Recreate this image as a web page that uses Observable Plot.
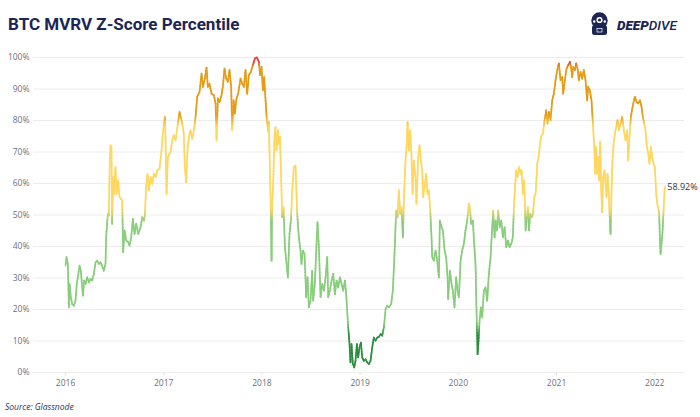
<!DOCTYPE html>
<html>
<head>
<meta charset="utf-8">
<script src="https://cdn.jsdelivr.net/npm/d3@7"></script>
<script src="https://cdn.jsdelivr.net/npm/@observablehq/plot@0.6"></script>
<style>
  body { margin: 0; background: #fff; }
  #wrap { width: 700px; height: 417px; overflow: hidden; background: #fff; }
  #wrap svg { display: block; }
  g[aria-label="x-axis tick"] path, g[aria-label="x-axis"] .tick line { stroke: #dcdcdc; }
</style>
</head>
<body>
<div id="wrap"></div>
<script>
// ---- Data ----
const title = "BTC MVRV Z-Score Percentile";
const source = "Source: Glassnode";

// time as decimal year
const t = [
2016.000,2016.010,2016.024,2016.034,2016.041,2016.054,2016.068,2016.085,2016.102,2016.115,
2016.143,2016.156,2016.177,2016.190,2016.204,2016.221,2016.238,2016.255,2016.272,2016.289,
2016.306,2016.322,2016.339,2016.356,2016.373,2016.390,2016.407,2016.414,2016.431,2016.441,
2016.451,2016.458,2016.468,2016.475,2016.485,2016.495,2016.509,2016.519,2016.536,2016.550,
2016.563,2016.577,2016.587,2016.601,2016.618,2016.638,2016.652,2016.669,2016.686,2016.703,
2016.720,2016.740,2016.764,2016.781,2016.798,2016.808,2016.821,2016.835,2016.849,2016.866,
2016.883,2016.900,2016.917,2016.934,2016.957,2016.978,2016.991,2017.012,2017.018,2017.029,
2017.042,2017.059,2017.073,2017.086,2017.103,2017.120,
2017.161,2017.181,2017.205,2017.215,2017.229,2017.242,2017.256,2017.273,2017.290,2017.307,
2017.324,2017.341,2017.365,2017.385,2017.399,2017.419,2017.436,2017.449,2017.466,2017.487,
2017.511,2017.528,2017.538,2017.551,2017.568,2017.585,2017.602,2017.619,2017.636,2017.653,
2017.670,2017.687,2017.697,2017.711,2017.724,2017.741,2017.758,2017.782,2017.799,2017.816,
2017.833,2017.850,2017.867,2017.887,2017.908,2017.928,2017.948,2017.969,2017.982,2017.996,
2018.010,2018.023,2018.037,2018.050,2018.064,2018.071,2018.081,2018.091,2018.098,2018.105,
2018.115,2018.128,2018.138,2018.149,2018.162,2018.172,2018.183,2018.196,2018.206,2018.220,
2018.234,2018.251,2018.264,2018.281,2018.295,2018.308,2018.325,2018.342,
2018.359,2018.376,2018.393,2018.403,2018.417,2018.434,2018.451,2018.464,2018.478,2018.495,
2018.512,2018.522,2018.539,2018.553,2018.566,2018.580,2018.597,2018.614,2018.631,2018.648,
2018.665,2018.675,2018.692,2018.709,2018.726,2018.743,2018.760,2018.777,2018.794,2018.811,
2018.828,2018.845,2018.858,2018.868,2018.879,2018.892,2018.902,2018.912,2018.926,2018.940,
2018.953,2018.967,2018.980,2018.994,2019.008,2019.021,2019.038,2019.055,2019.072,2019.089,
2019.106,2019.123,2019.140,2019.157,2019.174,2019.191,2019.208,2019.225,2019.242,2019.259,
2019.276,2019.293,2019.316,2019.333,2019.344,2019.354,2019.367,2019.381,2019.394,2019.408,
2019.422,2019.435,2019.449,2019.462,2019.473,2019.483,2019.496,2019.510,2019.523,2019.534,
2019.547,2019.564,
2019.574,2019.591,2019.605,2019.618,2019.632,2019.642,2019.656,2019.673,2019.686,2019.700,
2019.714,2019.727,2019.734,2019.751,2019.768,2019.785,2019.802,2019.812,2019.829,2019.843,
2019.860,2019.876,2019.890,2019.897,2019.914,2019.931,2019.944,2019.961,2019.978,2019.992,
2020.006,2020.023,2020.039,2020.056,2020.073,2020.090,2020.107,2020.117,2020.131,2020.148,
2020.161,2020.175,2020.185,2020.196,2020.206,2020.216,2020.230,2020.243,2020.260,2020.277,
2020.294,2020.311,2020.328,2020.345,2020.355,2020.369,2020.379,2020.392,2020.406,2020.420,
2020.437,2020.454,2020.471,2020.488,2020.505,2020.522,2020.539,2020.555,2020.566,2020.576,
2020.589,2020.603,2020.620,2020.634,2020.644,2020.657,2020.671,2020.685,2020.698,2020.709,
2020.719,2020.733,2020.746,2020.760,2020.774,2020.787,
2020.804,2020.821,2020.837,2020.847,2020.861,2020.878,2020.895,2020.908,2020.922,2020.939,
2020.956,2020.973,2020.990,2021.007,2021.024,2021.041,2021.058,2021.068,2021.085,2021.102,
2021.119,2021.136,2021.149,2021.160,2021.170,2021.187,2021.200,2021.217,2021.227,2021.244,
2021.261,2021.278,2021.295,2021.312,2021.322,2021.339,2021.356,2021.370,2021.384,2021.394,
2021.404,2021.414,2021.424,2021.435,2021.445,2021.455,2021.465,2021.475,2021.489,2021.499,
2021.509,2021.519,2021.530,2021.540,2021.550,2021.560,2021.570,2021.581,2021.594,2021.608,
2021.621,2021.635,2021.652,2021.669,2021.686,2021.703,2021.720,2021.730,2021.743,2021.757,
2021.771,2021.788,2021.798,2021.815,2021.832,2021.849,2021.866,2021.879,2021.893,2021.906,
2021.920,2021.934,2021.947,2021.961,2021.974,2021.988,2022.001,2022.015,2022.025,2022.035,
2022.045,2022.052,2022.059,2022.069,2022.079,2022.090,2022.100,2022.107
];

// MVRV Z-Score percentile (%)
const pct = [
33.9,36.6,34.5,20.7,28.1,23.9,21.7,21.2,22.8,28.1,
33.9,32.3,24.4,29.2,28.1,30.2,28.6,29.7,29.2,31.3,
35.0,35.5,34.5,35.0,33.9,32.3,34.5,42.9,50.4,49.8,
67.3,72.1,71.6,47.2,62.0,56.7,65.2,56.7,61.0,55.7,
55.1,54.6,38.2,45.1,41.9,41.4,40.3,42.9,48.8,44.0,
47.2,44.0,46.1,49.3,48.2,49.8,58.9,63.1,57.8,62.0,
59.9,63.1,62.0,64.2,64.7,70.5,75.8,81.1,74.8,56.7,
68.4,69.5,70.5,73.7,75.3,73.7,
82.7,80.1,75.8,65.2,60.4,70.5,74.8,76.9,74.2,76.9,
81.1,87.5,89.1,94.9,90.7,93.3,96.8,90.7,91.7,88.5,
88.0,85.4,73.7,87.0,85.9,87.5,90.7,96.5,93.3,92.3,
96.0,90.7,76.9,86.4,82.2,87.0,88.5,93.3,91.7,90.7,
96.0,88.5,94.4,95.4,97.6,99.7,100.0,98.6,94.4,97.0,
89.6,93.8,86.4,80.1,76.3,79.5,64.2,50.4,35.5,54.6,
59.9,74.8,77.9,70.5,76.9,72.6,74.8,62.0,49.3,52.5,
39.8,34.5,30.2,44.0,48.2,57.8,65.2,65.7,
50.4,42.9,38.7,34.5,38.7,37.6,23.9,30.2,20.7,22.8,
32.3,22.8,28.1,38.7,47.7,39.8,23.9,28.1,26.0,30.2,
36.6,23.9,26.0,29.2,31.3,24.9,29.2,27.0,30.2,28.1,
26.0,29.2,24.9,19.6,14.3,9.0,3.2,9.0,2.7,1.6,
3.7,9.0,4.8,8.0,9.5,4.8,3.7,4.2,3.2,2.7,
3.7,8.0,11.1,10.1,11.1,11.3,12.2,11.7,14.3,20.1,
21.2,20.7,21.7,26.0,33.4,40.8,51.4,49.3,57.8,50.4,
52.5,42.9,57.8,67.3,71.6,79.5,70.5,76.9,68.4,56.7,
67.3,62.0,
53.6,68.4,72.1,67.3,64.2,55.7,58.9,63.1,56.7,57.8,
51.4,42.9,36.6,35.5,38.7,35.5,30.2,48.2,46.1,45.1,
38.7,36.6,30.2,23.3,32.3,28.1,26.0,20.7,30.2,26.0,
23.9,35.5,38.7,40.8,45.1,48.2,53.6,52.5,47.2,48.2,
40.8,34.5,19.6,5.8,10.1,16.4,20.7,17.5,26.0,27.0,
22.8,31.3,36.6,46.1,51.4,42.9,48.2,45.1,51.4,46.1,
48.2,42.9,46.1,39.8,41.9,39.8,40.8,42.9,52.5,57.8,
64.2,62.0,65.2,63.1,64.2,56.7,61.0,45.1,49.3,52.5,
45.1,50.4,49.3,50.4,55.7,56.7,
66.3,69.5,73.7,75.3,75.8,80.1,83.2,79.0,82.7,80.1,
86.4,88.5,92.8,96.0,98.1,92.8,93.8,88.5,92.8,96.5,
97.6,98.6,96.5,93.8,97.0,96.0,98.1,96.0,92.8,95.4,
93.3,96.0,92.8,86.4,90.7,89.6,86.4,79.0,71.6,63.1,
71.6,63.1,68.4,61.0,73.2,57.8,50.9,62.0,64.2,59.9,
55.7,63.1,57.8,50.4,44.0,57.8,67.3,72.6,75.8,77.9,
80.1,76.9,79.0,81.1,76.9,73.7,76.9,67.3,74.8,81.1,
83.8,86.4,87.5,85.9,85.4,86.4,84.3,81.1,79.0,76.9,
71.6,69.5,66.3,71.6,68.4,66.3,65.2,56.7,53.6,52.5,
50.4,42.9,37.6,40.8,44.5,51.4,57.8,58.92
];

const yearTicks = [2016, 2017, 2018, 2019, 2020, 2021, 2022];
const pctTicks = [0, 10, 20, 30, 40, 50, 60, 70, 80, 90, 100];
// colour stops (percentile -> colour), blended between neighbours
const colorStops = [0, 12, 16, 48, 52, 78, 82, 97, 98.5, 100];
const colorRange = ["#2b8f3e", "#2b8f3e", "#88cd7c", "#88cd7c", "#ffd65e", "#ffd65e", "#e49b16", "#e49b16", "#e2443b", "#e2443b"];

// ---- Build series; split each step into small pieces so the colour blends ----
const pts = t.map((x, i) => ({x, v: pct[i]}));
const segs = [];
for (let i = 1; i < pts.length; i++) {
  const a = pts[i - 1], b = pts[i];
  const n = Math.max(1, Math.ceil(Math.abs(b.v - a.v) / 1));
  for (let k = 0; k < n; k++) {
    const f0 = k / n, f1 = (k + 1) / n;
    const x1 = a.x + (b.x - a.x) * f0, y1 = a.v + (b.v - a.v) * f0;
    const x2 = a.x + (b.x - a.x) * f1, y2 = a.v + (b.v - a.v) * f1;
    segs.push({x1, y1, x2, y2, m: (y1 + y2) / 2});
  }
}
const last = pts[pts.length - 1];

const wrap = d3.select("#wrap");
const navy = "#1c2553";

// ---- Header (title + logo) ----
const head = wrap.append("svg").attr("width", 700).attr("height", 45);
head.append("text")
  .attr("x", 8).attr("y", 30)
  .attr("font-family", "Roboto, 'Open Sans', sans-serif")
  .attr("font-weight", 700).attr("font-size", 17)
  .attr("fill", navy)
  .text(title);

const logo = head.append("g");
logo.append("circle").attr("cx", 599.5).attr("cy", 20.5).attr("r", 8.2).attr("fill", navy);
logo.append("rect").attr("x", 592).attr("y", 25).attr("width", 15).attr("height", 10).attr("rx", 2.5).attr("fill", navy);
logo.append("circle").attr("cx", 599.5).attr("cy", 20).attr("r", 3.1).attr("fill", "#fff");
logo.append("circle").attr("cx", 599.5).attr("cy", 20).attr("r", 1.6).attr("fill", navy);
logo.append("circle").attr("cx", 594.2).attr("cy", 21.5).attr("r", 1.2).attr("fill", "#fff");
logo.append("circle").attr("cx", 604.8).attr("cy", 21.5).attr("r", 1.2).attr("fill", "#fff");
logo.append("rect").attr("x", 597).attr("y", 28.5).attr("width", 5).attr("height", 3.5).attr("fill", "none").attr("stroke", "#fff").attr("stroke-width", 0.7);
const lt = head.append("text")
  .attr("x", 617).attr("y", 29.5)
  .attr("font-family", "Roboto, 'Open Sans', sans-serif")
  .attr("font-style", "italic").attr("font-size", 13.5)
  .attr("fill", navy);
lt.append("tspan").attr("font-weight", 900).text("DEEP");
lt.append("tspan").attr("font-weight", 500).text("DIVE");

// ---- Chart ----
const axisColor = "#6b6f80";
const chart = Plot.plot({
  width: 700,
  height: 345,
  marginTop: 12,
  marginBottom: 18,
  marginLeft: 33,
  marginRight: 16,
  style: {fontFamily: "'Open Sans', sans-serif", fontSize: "8.5px", color: axisColor, background: "#fff"},
  x: {domain: [2015.674, 2022.303], ticks: yearTicks, tickFormat: d => String(d), tickSize: 3, tickPadding: 4, label: null},
  y: {domain: [0, 100], ticks: pctTicks, tickFormat: d => d + "%", tickSize: 0, tickPadding: 4, label: null},
  color: {type: "linear", domain: colorStops, range: colorRange},
  marks: [
    Plot.ruleY(pctTicks, {stroke: "#ececec", strokeWidth: 1}),
    Plot.link(segs, {x1: "x1", y1: "y1", x2: "x2", y2: "y2", stroke: "m", strokeWidth: 1.7, strokeLinecap: "round", strokeLinejoin: "round"}),
    Plot.text([last], {x: "x", y: "v", text: d => d.v.toFixed(2) + "%", textAnchor: "start", dx: 2, fill: "#2b3350", fontSize: 9})
  ]
});
wrap.node().appendChild(chart);

// ---- Footer (source) ----
const foot = wrap.append("svg").attr("width", 700).attr("height", 27);
foot.append("text")
  .attr("x", 5).attr("y", 20)
  .attr("font-family", "'Open Sans', sans-serif")
  .attr("font-style", "italic").attr("font-size", 8.5)
  .attr("fill", "#2e3450")
  .text(source);
</script>
</body>
</html>
